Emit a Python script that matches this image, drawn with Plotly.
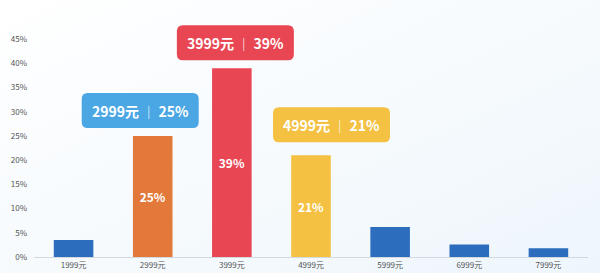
import base64
import plotly.graph_objects as go

categories = ["1999元", "2999元", "3999元", "4999元", "5999元", "6999元", "7999元"]
shares = [0.035, 0.25, 0.39, 0.21, 0.062, 0.026, 0.018]
bar_colors = ["#2D6DBE", "#E27839", "#E94654", "#F4C142", "#2D6DBE", "#2D6DBE", "#2D6DBE"]
highlight = ["2999元", "3999元", "4999元"]
box_colors = {"2999元": "#4AA7E4", "3999元": "#E94654", "4999元": "#F4C142"}
# styling offsets (pixels) for callout boxes: (left, right, bottom, top) relative to bar top centre
box_offsets = {"2999元": (-71, 46, 8, 43), "3999元": (-55, 62, 8, 43), "4999元": (-38, 79, 13, 48)}
y_ticks = [0, 0.05, 0.10, 0.15, 0.20, 0.25, 0.30, 0.35, 0.40, 0.45]
y_tick_text = ["0%", "5%", "10%", "15%", "20%", "25%", "30%", "35%", "40%", "45%"]

FONT = "Noto Sans CJK SC, Noto Sans, sans-serif"

inside_text = [f"{round(v*100)}%" if c in highlight else "" for c, v in zip(categories, shares)]

fig = go.Figure()
fig.add_trace(go.Bar(
    x=categories, y=shares, marker=dict(color=bar_colors, line=dict(width=0)),
    text=inside_text, textposition="inside", insidetextanchor="middle",
    textfont=dict(color="white", size=12, family=FONT, weight="bold"),
    textangle=0, cliponaxis=False, hoverinfo="skip",
))

def rounded_path(x0, x1, y0, y1, r):
    return (f"M{x0+r},{y0} L{x1-r},{y0} Q{x1},{y0} {x1},{y0+r} L{x1},{y1-r} Q{x1},{y1} {x1-r},{y1} "
            f"L{x0+r},{y1} Q{x0},{y1} {x0},{y1-r} L{x0},{y0+r} Q{x0},{y0} {x0+r},{y0} Z")

for c, v in zip(categories, shares):
    if c not in highlight:
        continue
    l, r, b, t = box_offsets[c]
    fig.add_shape(type="path", xref="x", yref="y", xsizemode="pixel", ysizemode="pixel",
                  xanchor=c, yanchor=v, path=rounded_path(l, r, b, t, 6),
                  fillcolor=box_colors[c], line=dict(width=0), layer="above")
    fig.add_annotation(x=c, y=v, xref="x", yref="y",
                       text=f"{c} <span style='font-weight:normal;font-size:13px'>｜</span> {round(v*100)}%",
                       showarrow=False, xshift=(l + r) / 2, yshift=(b + t) / 2,
                       font=dict(color="white", size=14, family=FONT, weight="bold"))

svg = ('<svg xmlns="http://www.w3.org/2000/svg" width="600" height="273">'
       '<defs><linearGradient id="g" x1="0" y1="0" x2="1" y2="1">'
       '<stop offset="0" stop-color="#FFFFFF"/><stop offset="1" stop-color="#EEF6FC"/>'
       '</linearGradient></defs><rect width="600" height="273" fill="url(#g)"/></svg>')
uri = "data:image/svg+xml;base64," + base64.b64encode(svg.encode()).decode()

fig.update_layout(
    width=600, height=273, margin=dict(l=34, r=12, t=15, b=16),
    paper_bgcolor="rgba(0,0,0,0)", plot_bgcolor="rgba(0,0,0,0)",
    bargap=0.5, showlegend=False,
    images=[dict(source=uri, xref="paper", yref="paper", x=-34/554, y=1+15/242,
                 sizex=600/554, sizey=273/242, xanchor="left", yanchor="top",
                 sizing="stretch", layer="below")],
    xaxis=dict(showgrid=False, showline=True, linecolor="#D3D9E0", linewidth=1, automargin=False,
               ticks="", tickfont=dict(size=8, color="#555", family=FONT), ticklabelstandoff=0),
    yaxis=dict(range=[0, 0.5], tickvals=y_ticks, ticktext=y_tick_text, showgrid=False, automargin=False,
               zeroline=False, showline=False, ticks="",
               tickfont=dict(size=8, color="#555", family=FONT), ticklabelstandoff=6),
)
fig.write_html("out.html")
